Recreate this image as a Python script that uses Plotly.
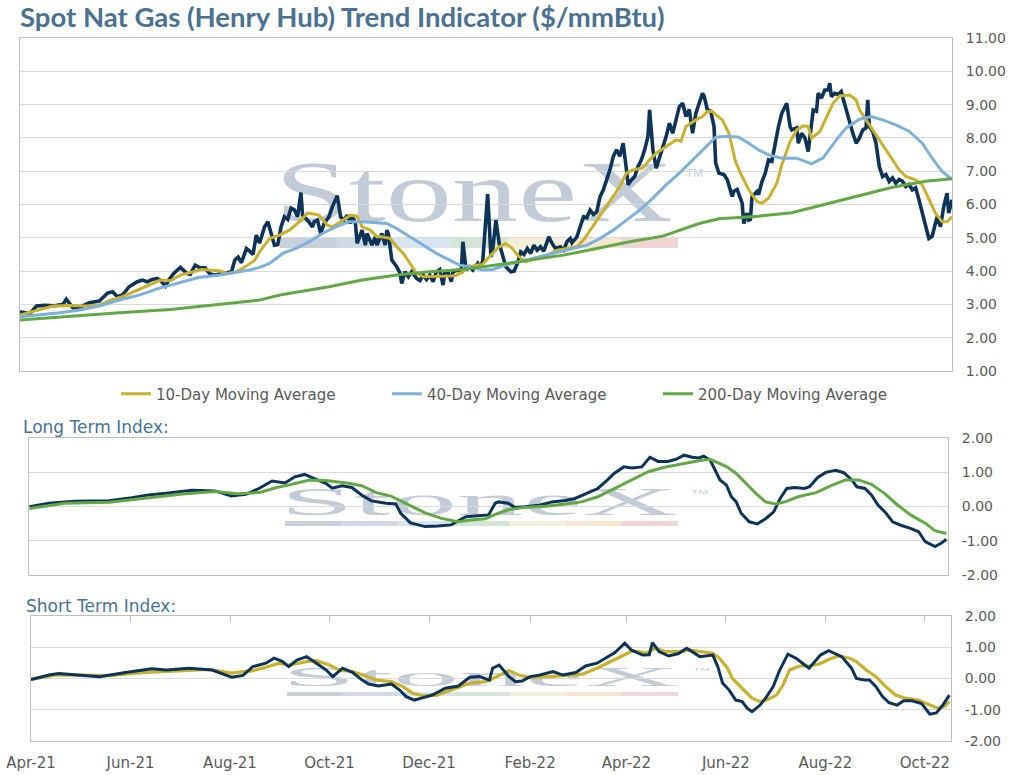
import base64
import plotly.graph_objects as go

# ---------------- data ----------------
spot_dates = [
 "2021-04-01","2021-04-07","2021-04-11","2021-04-16","2021-04-22","2021-04-27","2021-04-29",
 "2021-05-03","2021-05-08","2021-05-13","2021-05-19","2021-05-24","2021-05-27","2021-05-30",
 "2021-06-02","2021-06-06","2021-06-11","2021-06-14","2021-06-17","2021-06-20","2021-06-23","2021-06-25","2021-06-28","2021-06-30",
 "2021-07-03","2021-07-07","2021-07-09","2021-07-11","2021-07-13","2021-07-16","2021-07-19","2021-07-22","2021-07-25","2021-07-28","2021-07-31",
 "2021-08-04","2021-08-07","2021-08-09","2021-08-11","2021-08-13","2021-08-16","2021-08-18","2021-08-20","2021-08-22","2021-08-24","2021-08-27","2021-08-29","2021-08-31",
 "2021-09-02","2021-09-04","2021-09-06","2021-09-08","2021-09-10","2021-09-12","2021-09-14","2021-09-16","2021-09-18","2021-09-19","2021-09-22","2021-09-25","2021-09-26","2021-09-28","2021-09-30",
 "2021-10-02","2021-10-05","2021-10-07","2021-10-10","2021-10-12","2021-10-14","2021-10-16","2021-10-18","2021-10-19","2021-10-21","2021-10-22","2021-10-25","2021-10-27","2021-10-28","2021-10-31",
 "2021-11-02","2021-11-03","2021-11-06","2021-11-08","2021-11-09","2021-11-10","2021-11-12","2021-11-15","2021-11-17","2021-11-18","2021-11-20","2021-11-22","2021-11-24","2021-11-27","2021-11-29",
 "2021-12-01","2021-12-03","2021-12-05","2021-12-07","2021-12-09","2021-12-11","2021-12-13","2021-12-14","2021-12-16","2021-12-18","2021-12-19","2021-12-22","2021-12-24","2021-12-25","2021-12-27","2021-12-29","2021-12-31",
 "2022-01-03","2022-01-04","2022-01-06","2022-01-09","2022-01-11","2022-01-12","2022-01-14","2022-01-16","2022-01-18","2022-01-20","2022-01-23","2022-01-25","2022-01-27","2022-01-29","2022-01-31",
 "2022-02-02","2022-02-04","2022-02-06","2022-02-08","2022-02-10","2022-02-12","2022-02-15","2022-02-17","2022-02-19","2022-02-22","2022-02-24","2022-02-26","2022-02-28",
 "2022-03-01","2022-03-04","2022-03-06","2022-03-08","2022-03-10","2022-03-12","2022-03-14","2022-03-16","2022-03-18","2022-03-20","2022-03-22","2022-03-24","2022-03-26","2022-03-28","2022-03-30",
 "2022-04-01","2022-04-03","2022-04-04","2022-04-06","2022-04-08","2022-04-10","2022-04-12","2022-04-14","2022-04-16","2022-04-17","2022-04-18","2022-04-19","2022-04-21","2022-04-24","2022-04-25","2022-04-27","2022-04-29",
 "2022-05-01","2022-05-03","2022-05-05","2022-05-07","2022-05-09","2022-05-11","2022-05-13","2022-05-15","2022-05-17","2022-05-19","2022-05-20","2022-05-22","2022-05-24","2022-05-26","2022-05-27","2022-05-29",
 "2022-06-01","2022-06-03","2022-06-06","2022-06-07","2022-06-09","2022-06-12","2022-06-13","2022-06-15","2022-06-16","2022-06-17","2022-06-18","2022-06-21","2022-06-22","2022-06-24","2022-06-26","2022-06-28","2022-06-30",
 "2022-07-02","2022-07-04","2022-07-06","2022-07-09","2022-07-11","2022-07-12","2022-07-15","2022-07-16","2022-07-18","2022-07-20","2022-07-22","2022-07-24","2022-07-25","2022-07-27","2022-07-28","2022-07-30",
 "2022-08-01","2022-08-03","2022-08-04","2022-08-05","2022-08-07","2022-08-09","2022-08-11","2022-08-12","2022-08-14","2022-08-16","2022-08-18","2022-08-20","2022-08-22","2022-08-24","2022-08-26","2022-08-27","2022-08-28","2022-08-30",
 "2022-09-01","2022-09-03","2022-09-05","2022-09-07","2022-09-09","2022-09-11","2022-09-13","2022-09-15","2022-09-17","2022-09-19","2022-09-21","2022-09-23","2022-09-25","2022-09-27","2022-09-29",
 "2022-10-01","2022-10-03","2022-10-05","2022-10-07","2022-10-08","2022-10-10","2022-10-12","2022-10-14","2022-10-15","2022-10-17",
]
spot_values = [
 2.78,2.72,2.95,2.97,2.96,3.00,3.16,
 2.90,2.93,3.05,3.10,3.34,3.38,3.23,
 3.28,3.53,3.68,3.73,3.68,3.75,3.78,3.72,3.55,3.73,
 3.93,4.11,4.02,3.93,3.90,4.18,4.10,4.10,3.91,3.88,3.91,
 3.95,3.98,4.33,4.42,4.25,4.68,4.60,4.50,5.08,4.84,5.33,5.48,5.13,
 4.78,4.80,5.33,5.63,5.55,5.89,5.84,5.63,6.36,5.68,5.53,5.33,5.48,5.53,5.13,
 5.43,5.63,5.93,6.26,5.63,5.53,5.68,5.43,5.68,5.43,4.83,5.23,4.78,5.13,4.78,
 5.03,4.78,5.13,4.78,5.23,5.10,4.33,4.13,3.93,3.63,3.98,3.83,3.98,3.78,3.72,
 3.88,3.75,3.88,3.68,3.98,4.05,3.58,3.95,3.98,3.68,3.98,4.03,3.98,4.88,4.03,4.13,4.03,
 4.23,4.13,4.28,6.31,4.43,4.63,5.53,4.83,4.48,4.13,3.98,4.00,4.23,4.58,4.50,
 4.68,4.53,4.78,4.63,4.73,4.60,5.03,4.83,4.68,4.73,4.63,4.88,4.98,
 4.85,5.03,5.33,5.63,5.60,5.83,5.70,5.78,6.23,6.44,6.74,7.04,7.44,7.64,7.45,
 7.84,7.04,6.59,6.74,6.84,7.14,7.34,7.64,8.04,8.84,8.34,7.64,7.09,7.54,7.74,8.04,8.44,
 8.14,8.54,8.94,9.04,8.64,8.85,8.14,8.74,9.04,9.34,9.25,8.84,8.80,8.34,7.24,6.94,
 6.90,6.74,6.24,6.40,6.45,6.04,5.43,5.74,5.53,5.55,6.24,6.39,6.30,6.69,6.94,7.34,7.30,
 7.84,8.34,8.74,9.04,8.34,8.24,8.30,7.84,8.14,8.00,7.59,8.34,8.84,8.80,9.34,9.20,
 9.44,9.44,9.64,9.24,9.34,9.30,9.39,9.20,8.84,8.44,8.14,7.84,8.00,8.24,8.30,9.14,8.34,8.20,
 7.84,7.14,6.84,6.90,6.69,6.80,6.64,6.75,6.70,6.54,6.60,6.44,6.50,6.14,5.74,
 5.33,4.98,5.05,5.43,5.63,5.33,5.94,6.34,5.74,6.14,
]

ma10_dates = [
 "2021-04-01","2021-04-13","2021-04-21","2021-05-01","2021-05-11","2021-05-19","2021-05-25",
 "2021-06-02","2021-06-11","2021-06-19","2021-06-25","2021-07-01","2021-07-07","2021-07-15","2021-07-20","2021-07-25","2021-07-31",
 "2021-08-05","2021-08-10","2021-08-16","2021-08-21","2021-08-24","2021-08-30","2021-09-05","2021-09-11","2021-09-17","2021-09-22","2021-09-25","2021-09-29",
 "2021-10-04","2021-10-07","2021-10-12","2021-10-18","2021-10-22","2021-10-25","2021-10-30","2021-11-03","2021-11-06","2021-11-11","2021-11-15","2021-11-19","2021-11-23","2021-11-27",
 "2021-12-01","2021-12-09","2021-12-17","2021-12-21","2021-12-25","2021-12-29","2022-01-02","2022-01-06","2022-01-10","2022-01-16","2022-01-20","2022-01-24","2022-01-28",
 "2022-02-01","2022-02-08","2022-02-14","2022-02-20","2022-02-26","2022-03-04","2022-03-08","2022-03-12","2022-03-16","2022-03-20","2022-03-26","2022-03-30",
 "2022-04-03","2022-04-07","2022-04-13","2022-04-17","2022-04-21","2022-04-27","2022-05-03","2022-05-06","2022-05-09","2022-05-15","2022-05-19","2022-05-22","2022-05-25","2022-05-27","2022-05-31",
 "2022-06-04","2022-06-06","2022-06-08","2022-06-12","2022-06-16","2022-06-21","2022-06-24","2022-06-28","2022-07-03","2022-07-06","2022-07-11","2022-07-15","2022-07-19","2022-07-22","2022-07-24","2022-07-29",
 "2022-08-02","2022-08-06","2022-08-10","2022-08-16","2022-08-20","2022-08-22","2022-08-26","2022-08-30","2022-09-03","2022-09-07","2022-09-11","2022-09-15","2022-09-19","2022-09-25","2022-09-29",
 "2022-10-03","2022-10-07","2022-10-11","2022-10-14","2022-10-17",
]
ma10_values = [
 2.68,2.83,2.95,2.97,2.95,2.98,3.11,
 3.23,3.43,3.61,3.73,3.71,3.88,3.98,4.05,4.03,4.00,
 3.93,3.98,4.15,4.33,4.58,4.98,5.08,5.23,5.48,5.74,5.72,5.68,
 5.38,5.33,5.48,5.68,5.65,5.33,5.23,5.03,5.03,4.98,4.73,4.53,4.23,3.93,
 3.83,3.83,3.85,3.87,3.98,4.13,4.18,4.20,4.43,4.73,4.83,4.68,4.43,
 4.28,4.38,4.48,4.63,4.68,4.73,4.93,5.23,5.53,5.83,6.24,6.54,
 6.94,7.04,7.10,7.34,7.54,7.74,7.94,7.90,8.34,8.54,8.64,8.79,8.79,8.70,8.54,
 8.14,7.74,7.29,6.84,6.44,6.09,6.04,6.19,6.64,7.19,7.89,8.24,8.36,8.34,7.99,8.19,
 8.64,9.04,9.26,9.29,9.14,8.84,8.54,8.24,7.94,7.64,7.34,7.04,6.84,6.74,6.59,
 6.14,5.74,5.48,5.48,5.63,
]

ma40_dates = [
 "2021-04-01","2021-04-13","2021-04-25","2021-05-07","2021-05-19","2021-05-31","2021-06-12","2021-06-24","2021-07-06","2021-07-18","2021-07-31",
 "2021-08-12","2021-08-18","2021-08-24","2021-08-30","2021-09-07","2021-09-15","2021-09-23","2021-10-01","2021-10-09","2021-10-17","2021-10-25",
 "2021-11-03","2021-11-09","2021-11-15","2021-11-23","2021-12-01","2021-12-09","2021-12-17","2021-12-23","2021-12-29",
 "2022-01-06","2022-01-12","2022-01-20","2022-01-28","2022-02-05","2022-02-13","2022-02-21","2022-03-01","2022-03-10","2022-03-18","2022-03-26",
 "2022-04-03","2022-04-11","2022-04-19","2022-04-27","2022-05-05","2022-05-13","2022-05-21","2022-05-27","2022-06-04","2022-06-10","2022-06-16","2022-06-22","2022-06-28",
 "2022-07-06","2022-07-15","2022-07-24","2022-07-31","2022-08-08","2022-08-14","2022-08-22","2022-08-29","2022-09-05","2022-09-13","2022-09-21","2022-09-29",
 "2022-10-05","2022-10-11","2022-10-17",
]
ma40_values = [
 2.63,2.68,2.75,2.83,2.95,3.13,3.28,3.48,3.65,3.81,3.88,
 3.98,4.03,4.11,4.23,4.53,4.68,4.88,5.13,5.33,5.48,5.48,
 5.45,5.43,5.28,5.03,4.78,4.53,4.33,4.18,4.13,
 4.03,4.05,4.18,4.28,4.38,4.48,4.58,4.68,4.78,4.98,5.23,
 5.53,5.83,6.19,6.59,6.94,7.34,7.74,8.02,8.05,8.02,7.84,7.64,7.49,
 7.39,7.39,7.22,7.40,7.94,8.30,8.56,8.64,8.54,8.39,8.20,7.84,
 7.39,6.99,6.76,
]

ma200_dates = [
 "2021-04-01","2021-05-01","2021-05-31","2021-07-01","2021-07-31","2021-08-24","2021-09-07","2021-09-27","2021-10-05","2021-10-25",
 "2021-11-15","2021-12-05","2021-12-25","2022-01-14","2022-02-04","2022-02-24","2022-03-16","2022-04-05","2022-04-25","2022-05-05",
 "2022-05-17","2022-05-29","2022-06-22","2022-07-12","2022-08-02","2022-08-22","2022-09-11","2022-10-01","2022-10-17",
]
ma200_values = [
 2.53,2.65,2.75,2.85,3.01,3.13,3.30,3.47,3.53,3.73,
 3.88,3.98,4.05,4.18,4.33,4.48,4.68,4.88,5.05,5.23,
 5.43,5.57,5.65,5.75,6.02,6.27,6.52,6.70,6.77,
]

long_index_dates = [
 "2021-04-01","2021-04-13","2021-04-29","2021-05-20","2021-06-03","2021-06-13","2021-06-24","2021-07-10","2021-07-24",
 "2021-08-03","2021-08-12","2021-08-20","2021-08-28","2021-09-05","2021-09-11","2021-09-17","2021-09-23","2021-09-30",
 "2021-10-04","2021-10-10","2021-10-16","2021-10-22","2021-10-28","2021-11-06","2021-11-12","2021-11-15","2021-11-21","2021-11-30",
 "2021-12-08","2021-12-16","2021-12-25","2022-01-02","2022-01-08","2022-01-12","2022-01-14","2022-01-20","2022-01-24","2022-01-30",
 "2022-02-08","2022-02-16","2022-02-24","2022-03-02","2022-03-08","2022-03-16","2022-03-22","2022-03-26",
 "2022-04-01","2022-04-06","2022-04-12","2022-04-17","2022-04-22","2022-04-28","2022-05-03","2022-05-08","2022-05-13","2022-05-17","2022-05-20","2022-05-24","2022-05-27","2022-05-30",
 "2022-06-03","2022-06-06","2022-06-09","2022-06-12","2022-06-17","2022-06-22","2022-06-27","2022-07-02","2022-07-06","2022-07-10","2022-07-15","2022-07-21","2022-07-24","2022-07-29",
 "2022-08-03","2022-08-09","2022-08-14","2022-08-19","2022-08-22","2022-08-27","2022-08-31","2022-09-04","2022-09-09","2022-09-13","2022-09-18","2022-09-24","2022-09-29",
 "2022-10-03","2022-10-09","2022-10-13","2022-10-16",
]
long_index_values = [
 -0.01,0.09,0.15,0.16,0.25,0.33,0.38,0.47,0.45,
 0.30,0.35,0.52,0.74,0.68,0.86,0.93,0.81,0.67,
 0.53,0.60,0.55,0.33,0.16,0.09,0.07,-0.20,-0.48,-0.59,
 -0.57,-0.54,-0.30,-0.27,-0.25,0.09,0.13,0.09,-0.03,-0.01,
 0.03,0.13,0.17,0.23,0.36,0.52,0.77,0.96,
 1.15,1.12,1.15,1.43,1.31,1.31,1.37,1.49,1.43,1.41,1.46,1.35,1.06,0.77,
 0.62,0.28,0.13,-0.20,-0.45,-0.51,-0.36,-0.16,0.23,0.52,0.55,0.52,0.57,0.84,
 0.99,1.05,0.98,0.77,0.57,0.52,0.33,0.04,-0.20,-0.45,-0.55,-0.64,-0.74,
 -1.03,-1.17,-1.07,-0.96,
]

long_avg_dates = [
 "2021-04-01","2021-04-23","2021-05-20","2021-06-13","2021-07-04","2021-07-24","2021-08-07","2021-08-20","2021-08-31","2021-09-09",
 "2021-09-20","2021-09-30","2021-10-14","2021-10-22","2021-10-31","2021-11-09","2021-11-20","2021-11-30","2021-12-10","2021-12-20",
 "2021-12-28","2022-01-06","2022-01-14","2022-01-20","2022-01-30","2022-02-14","2022-02-24","2022-03-06","2022-03-16","2022-03-26",
 "2022-04-06","2022-04-16","2022-04-26","2022-05-06","2022-05-17","2022-05-24","2022-05-29","2022-06-03","2022-06-09","2022-06-15",
 "2022-06-21","2022-06-27","2022-07-03","2022-07-09","2022-07-17","2022-07-28","2022-08-07","2022-08-15","2022-08-23","2022-08-31",
 "2022-09-08","2022-09-16","2022-09-24","2022-10-03","2022-10-09","2022-10-16",
]
long_avg_values = [
 -0.06,0.09,0.12,0.25,0.36,0.43,0.37,0.40,0.55,0.64,
 0.77,0.75,0.67,0.60,0.40,0.30,0.04,-0.19,-0.35,-0.45,
 -0.40,-0.36,-0.20,-0.10,-0.03,0.01,0.07,0.13,0.28,0.52,
 0.77,1.01,1.14,1.23,1.33,1.37,1.27,1.16,0.96,0.67,
 0.38,0.13,0.07,0.13,0.28,0.40,0.62,0.77,0.77,0.64,
 0.38,0.04,-0.25,-0.49,-0.71,-0.79,
]

short_index_dates = [
 "2021-04-01","2021-04-12","2021-04-18","2021-05-02","2021-05-13","2021-05-29","2021-06-14","2021-06-23","2021-07-07","2021-07-21",
 "2021-08-02","2021-08-09","2021-08-15","2021-08-23","2021-08-28","2021-09-02","2021-09-06","2021-09-11","2021-09-17","2021-09-23","2021-09-29",
 "2021-10-03","2021-10-09","2021-10-15","2021-10-21","2021-10-25","2021-10-31","2021-11-08","2021-11-13","2021-11-17","2021-11-22","2021-11-27",
 "2021-12-03","2021-12-11","2021-12-19","2021-12-26","2022-01-01","2022-01-07","2022-01-09","2022-01-13","2022-01-19","2022-01-23","2022-01-27",
 "2022-02-01","2022-02-07","2022-02-15","2022-02-21","2022-03-01","2022-03-07","2022-03-14","2022-03-20","2022-03-25","2022-03-31",
 "2022-04-04","2022-04-11","2022-04-15","2022-04-17","2022-04-21","2022-04-27","2022-05-03","2022-05-08","2022-05-16","2022-05-24","2022-05-27","2022-05-30",
 "2022-06-03","2022-06-07","2022-06-11","2022-06-14","2022-06-17","2022-06-22","2022-06-26","2022-06-30",
 "2022-07-04","2022-07-09","2022-07-14","2022-07-18","2022-07-22","2022-07-25","2022-07-29",
 "2022-08-03","2022-08-08","2022-08-11","2022-08-17","2022-08-20","2022-08-25","2022-08-28",
 "2022-09-01","2022-09-05","2022-09-09","2022-09-14","2022-09-18","2022-09-23","2022-09-29",
 "2022-10-04","2022-10-08","2022-10-12","2022-10-16",
]
short_index_values = [
 -0.03,0.11,0.16,0.11,0.06,0.19,0.31,0.27,0.33,0.27,
 0.04,0.10,0.38,0.49,0.65,0.55,0.38,0.59,0.70,0.49,0.27,
 0.06,0.33,0.20,-0.05,-0.18,-0.24,-0.18,-0.37,-0.58,-0.69,-0.62,
 -0.53,-0.31,-0.24,0.04,0.06,-0.05,0.33,0.43,0.06,-0.10,-0.08,
 0.06,0.11,0.22,0.11,0.19,0.40,0.49,0.68,0.83,1.13,
 0.91,0.75,0.76,1.15,0.86,0.72,0.80,0.97,0.70,0.75,0.38,-0.15,
 -0.37,-0.69,-0.74,-0.95,-1.06,-0.85,-0.58,-0.26,
 0.27,0.78,0.65,0.49,0.33,0.51,0.75,
 0.89,0.78,0.70,0.33,0.00,-0.05,-0.05,
 -0.26,-0.58,-0.77,-0.85,-0.71,-0.71,-0.80,
 -1.14,-1.10,-0.85,-0.53,
]

short_avg_dates = [
 "2021-04-01","2021-04-16","2021-05-02","2021-05-19","2021-06-08","2021-06-29","2021-07-19","2021-08-02","2021-08-15","2021-08-23",
 "2021-08-31","2021-09-06","2021-09-17","2021-09-23","2021-10-01","2021-10-07","2021-10-15","2021-10-21","2021-10-30","2021-11-08",
 "2021-11-15","2021-11-21","2021-11-27","2021-12-06","2021-12-15","2021-12-26","2022-01-05","2022-01-13","2022-01-19","2022-01-25",
 "2022-02-01","2022-02-13","2022-02-23","2022-03-05","2022-03-14","2022-03-22","2022-03-30","2022-04-05","2022-04-13","2022-04-19",
 "2022-04-25","2022-05-03","2022-05-10","2022-05-18","2022-05-24","2022-05-28","2022-06-02","2022-06-05","2022-06-10","2022-06-14",
 "2022-06-17","2022-06-22","2022-06-26","2022-07-02","2022-07-06","2022-07-10","2022-07-16","2022-07-22","2022-07-28","2022-08-03",
 "2022-08-09","2022-08-16","2022-08-20","2022-08-26","2022-09-01","2022-09-07","2022-09-13","2022-09-19","2022-09-27","2022-10-04",
 "2022-10-09","2022-10-13","2022-10-16",
]
short_avg_values = [
 -0.03,0.11,0.11,0.09,0.19,0.25,0.29,0.17,0.25,0.36,
 0.49,0.43,0.54,0.57,0.43,0.27,0.22,0.12,-0.05,-0.10,
 -0.26,-0.47,-0.55,-0.53,-0.37,-0.15,-0.10,0.11,0.25,0.11,
 0.03,0.06,0.11,0.14,0.33,0.54,0.75,0.89,0.81,0.97,
 0.86,0.86,0.91,0.86,0.81,0.65,0.33,0.00,-0.26,-0.47,
 -0.63,-0.74,-0.69,-0.53,-0.21,0.27,0.40,0.40,0.46,0.61,
 0.72,0.65,0.54,0.27,0.06,-0.26,-0.53,-0.63,-0.69,-0.85,
 -0.95,-0.90,-0.74,
]

x_range = ["2021-04-01", "2022-10-17"]
x_tick_dates = ["2021-04-01","2021-06-01","2021-08-01","2021-10-01","2021-12-01",
                "2022-02-01","2022-04-01","2022-06-01","2022-08-01","2022-10-01"]
x_tick_labels = ["Apr-21","Jun-21","Aug-21","Oct-21","Dec-21",
                 "Feb-22","Apr-22","Jun-22","Aug-22","Oct-22"]
price_ticks = [1, 2, 3, 4, 5, 6, 7, 8, 9, 10, 11]
price_tick_labels = ["1.00","2.00","3.00","4.00","5.00","6.00","7.00","8.00","9.00","10.00","11.00"]
index_ticks = [-2, -1, 0, 1, 2]
index_tick_labels = ["-2.00","-1.00","0.00","1.00","2.00"]

for a, b in [(spot_dates, spot_values), (ma10_dates, ma10_values), (ma40_dates, ma40_values),
             (ma200_dates, ma200_values), (long_index_dates, long_index_values),
             (long_avg_dates, long_avg_values), (short_index_dates, short_index_values),
             (short_avg_dates, short_avg_values)]:
    assert len(a) == len(b), (len(a), len(b))

# ---------------- style ----------------
W, H = 1015, 775
NAVY = "#0D3358"
GOLD = "#C8B12E"
BLUE = "#7DB0DA"
GREEN = "#62A845"
GRID = "#D9D9D9"
BORDER = "#BFBFBF"
TICKC = "#595959"
TITLEC = "#4A7192"
FONT = "DejaVu Sans, sans-serif"
TFONT = "Lato, sans-serif"
WM = "#C3CCD6"


def px(x):
    return x / W


def py(y):
    return 1 - y / H


fig = go.Figure()
# top panel
fig.add_trace(go.Scatter(x=spot_dates, y=spot_values, mode="lines", showlegend=False,
                         line=dict(color=NAVY, width=3.6), xaxis="x", yaxis="y"))
fig.add_trace(go.Scatter(x=ma10_dates, y=ma10_values, mode="lines", name="10-Day Moving Average",
                         line=dict(color=GOLD, width=3), xaxis="x", yaxis="y"))
fig.add_trace(go.Scatter(x=ma40_dates, y=ma40_values, mode="lines", name="40-Day Moving Average",
                         line=dict(color=BLUE, width=3), xaxis="x", yaxis="y"))
fig.add_trace(go.Scatter(x=ma200_dates, y=ma200_values, mode="lines", name="200-Day Moving Average",
                         line=dict(color=GREEN, width=3), xaxis="x", yaxis="y"))
# long term
fig.add_trace(go.Scatter(x=long_index_dates, y=long_index_values, mode="lines", showlegend=False,
                         line=dict(color=NAVY, width=3), xaxis="x2", yaxis="y2"))
fig.add_trace(go.Scatter(x=long_avg_dates, y=long_avg_values, mode="lines", showlegend=False,
                         line=dict(color=GREEN, width=3), xaxis="x2", yaxis="y2"))
# short term
fig.add_trace(go.Scatter(x=short_index_dates, y=short_index_values, mode="lines", showlegend=False,
                         line=dict(color=NAVY, width=3), xaxis="x4", yaxis="y3"))
fig.add_trace(go.Scatter(x=short_avg_dates, y=short_avg_values, mode="lines", showlegend=False,
                         line=dict(color=GOLD, width=3.2), xaxis="x3", yaxis="y3"))

ytickfont = dict(family=FONT, size=14, color=TICKC)
xtickfont = dict(family=FONT, size=15, color=TICKC)
common_x = dict(type="date", range=x_range, showgrid=False, zeroline=False, showline=True,
                mirror=True, linecolor=BORDER, linewidth=1, automargin=False)
common_y = dict(side="right", showgrid=True, gridcolor=GRID, gridwidth=1, zeroline=False,
                showline=True, mirror=True, linecolor=BORDER, linewidth=1, ticks="",
                tickfont=ytickfont, ticklabelstandoff=10, automargin=False)

fig.update_layout(
    width=W, height=H, template="none",
    margin=dict(l=0, r=0, t=0, b=0, autoexpand=False),
    paper_bgcolor="white", plot_bgcolor="rgba(0,0,0,0)",
    font=dict(family=FONT, color=TICKC),
    title=dict(text="<b>Spot Nat Gas (Henry Hub) Trend Indicator ($/mmBtu)</b>",
               x=px(20), xanchor="left", xref="paper", y=py(17), yanchor="middle", yref="paper",
               font=dict(family=TFONT, size=27.5, color=TITLEC)),
    xaxis=dict(domain=[px(20), px(952)], anchor="y", showticklabels=False, ticks="", **common_x),
    yaxis=dict(domain=[py(371), py(38)], anchor="x", range=[1, 11],
               tickvals=price_ticks, ticktext=price_tick_labels, **common_y),
    xaxis2=dict(domain=[px(29.3), px(948)], anchor="y2", showticklabels=False, ticks="", **common_x),
    yaxis2=dict(domain=[py(575), py(437.7)], anchor="x2", range=[-2, 2],
                tickvals=index_ticks, ticktext=index_tick_labels, **common_y),
    xaxis3=dict(domain=[px(31), px(951)], anchor="y3", ticks="", tickvals=x_tick_dates,
                ticktext=x_tick_labels, tickfont=xtickfont, ticklabelstandoff=8, **common_x),
    xaxis4=dict(type="date", range=x_range, overlaying="x3", anchor="y3", side="top",
                ticks="inside", ticklen=6, tickcolor=BORDER, tickvals=x_tick_dates,
                showticklabels=False, showgrid=False, showline=False, zeroline=False,
                automargin=False),
    yaxis3=dict(domain=[py(741), py(616)], anchor="x3", range=[-2, 2],
                tickvals=index_ticks, ticktext=index_tick_labels, **common_y),
    legend=dict(orientation="h", x=px(116), xanchor="left", y=py(394), yanchor="middle",
                font=dict(family=FONT, size=15, color=TICKC), bgcolor="rgba(0,0,0,0)",
                entrywidth=226, entrywidthmode="pixels", traceorder="normal"),
    showlegend=True,
)

# panel captions
fig.add_annotation(text="Long Term Index:", x=px(21), y=py(427), xref="paper", yref="paper",
                   xanchor="left", yanchor="middle", showarrow=False,
                   font=dict(family=FONT, size=17, color=TITLEC))
fig.add_annotation(text="Short Term Index:", x=px(24), y=py(606), xref="paper", yref="paper",
                   xanchor="left", yanchor="middle", showarrow=False,
                   font=dict(family=FONT, size=17, color=TITLEC))

# faint StoneX watermark (decoration) in each panel
svg = ("<svg xmlns='http://www.w3.org/2000/svg' width='430' height='60' viewBox='0 0 430 60' "
       "preserveAspectRatio='none'>"
       "<text x='0' y='59' font-family='Liberation Serif, DejaVu Serif, serif' font-size='88' "
       "textLength='398' lengthAdjust='spacingAndGlyphs' fill='" + WM + "'>StoneX</text>"
       "<text x='411' y='14' font-family='Liberation Sans, sans-serif' font-size='12' "
       "textLength='17' lengthAdjust='spacingAndGlyphs' fill='" + WM + "'>TM</text></svg>")
uri = "data:image/svg+xml;base64," + base64.b64encode(svg.encode()).decode()
bar_colors = ["#C8D0DA", "#D0DAE5", "#D8E5F1", "#D4E5D5", "#F4F0D7", "#F6E5CF", "#F0D5D5"]
for (x0, x1, t0, t1, b0, b1) in [(275, 705, 163, 222, 238, 248),
                                  (280, 710, 488, 515, 521, 526),
                                  (282, 712, 667, 686, 692, 696)]:
    fig.add_layout_image(source=uri, xref="paper", yref="paper", x=px(x0), y=py(t0),
                         sizex=px(x1 - x0), sizey=(t1 - t0) / H, xanchor="left", yanchor="top",
                         sizing="stretch", layer="below", opacity=1)
    seg = (678 - (x0 + 5)) / len(bar_colors)
    for i, c in enumerate(bar_colors):
        fig.add_shape(type="rect", xref="paper", yref="paper",
                      x0=px(x0 + 5 + i * seg), x1=px(x0 + 5 + (i + 1) * seg),
                      y0=py(b1), y1=py(b0), fillcolor=c, line=dict(width=0), layer="below")

fig.write_html("out.html", config={"displayModeBar": False},
               post_script="document.body.style.margin='0px';document.body.style.overflow='hidden';")
